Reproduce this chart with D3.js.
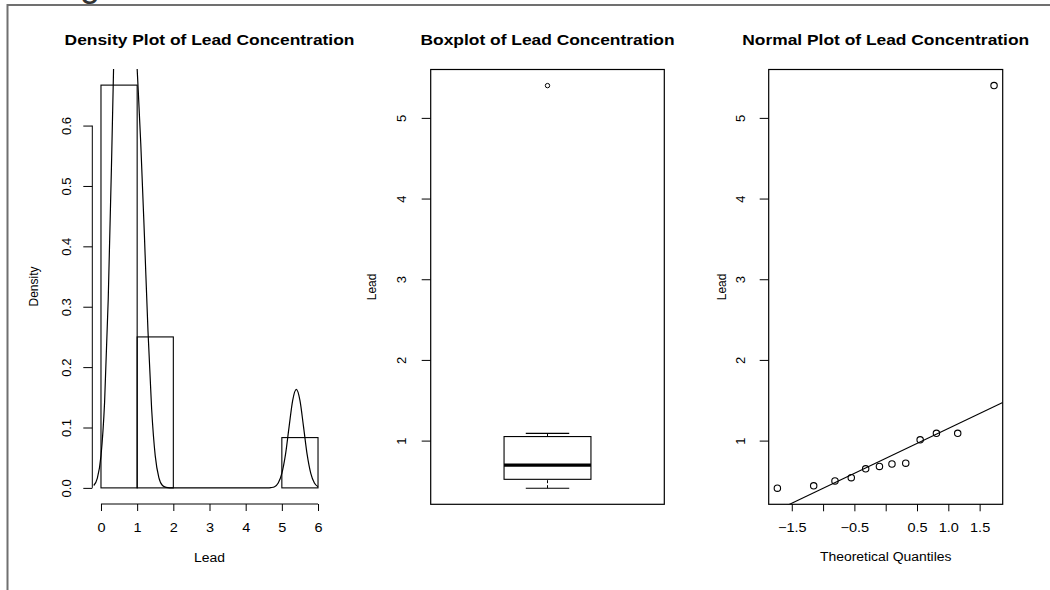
<!DOCTYPE html>
<html>
<head>
<meta charset="utf-8">
<script src="https://cdn.jsdelivr.net/npm/d3@7"></script>
<style>
  body { margin: 0; background: #fff; }
  svg { display: block; }
  text { font-family: "Liberation Sans", Arial, Helvetica, sans-serif; fill: #000; }
</style>
</head>
<body>
<div id="chartRoot"></div>
<script>
// lead values (sorted)
var leadValues = [0.41, 0.44, 0.50, 0.54, 0.65, 0.68, 0.71, 0.72, 1.01, 1.09, 1.09, 5.40];
var theoQuantiles = [-1.73, -1.15, -0.81, -0.55, -0.32, -0.10, 0.10, 0.32, 0.55, 0.81, 1.15, 1.73];

// histogram
var histBreaks = [0, 1, 2, 3, 4, 5, 6];
var histDensity = [0.667, 0.25, 0, 0, 0, 0.0833];

// density curve (top part is clipped)
var densX = [-0.2, -0.1, 0, 0.1, 0.2, 0.3, 0.4, 0.5, 0.6, 0.7, 0.8, 0.9, 1.0, 1.1, 1.2, 1.3, 1.4, 1.5, 1.6, 1.7, 1.8, 2.0,
             4.6, 4.7, 4.8, 4.9, 5.0, 5.1, 5.2, 5.3, 5.4, 5.5, 5.6, 5.7, 5.8, 5.9, 6.0];
var densY = [0.004, 0.016, 0.053, 0.142, 0.312, 0.560, 0.838, 1.061, 1.153, 1.101, 0.963, 0.816, 0.694, 0.570, 0.419, 0.259, 0.131, 0.053, 0.017, 0.004, 0.001, 0,
             0, 0.0005, 0.002, 0.008, 0.024, 0.055, 0.101, 0.145, 0.163, 0.145, 0.101, 0.055, 0.024, 0.008, 0.002];

// boxplot: lower whisker, lower hinge, median, upper hinge, upper whisker
var boxStats = [0.41, 0.52, 0.695, 1.05, 1.09];
var boxOutliers = [5.40];

// qq line: intercept, slope
var qqLineCoef = [0.78, 0.371];

// ticks
var histXTicks = [0, 1, 2, 3, 4, 5, 6];
var histYTicks = [0, 0.1, 0.2, 0.3, 0.4, 0.5, 0.6];
var leadTicks = [1, 2, 3, 4, 5];
var qqXTicks = [-1.5, -1, -0.5, 0, 0.5, 1, 1.5];
var qqXLabels = ["\u22121.5", "", "\u22120.5", "", "0.5", "1.0", "1.5"];

var titles = ["Density Plot of Lead Concentration", "Boxplot of Lead Concentration", "Normal Plot of Lead Concentration"];

var W = 1050, H = 590;
var SX = 1.16; // text is a bit wider than tall in the picture

var svg = d3.select("#chartRoot").append("svg").attr("width", W).attr("height", H);

// page edge of the surrounding document
svg.append("text").attr("x", 50).attr("y", -4).attr("font-size", 36).style("fill", "#333").text("Figure");
svg.append("path").attr("d", "M7.5,590V5H1050").attr("fill", "none").attr("stroke", "#707070").attr("stroke-width", 2);

function pad(ext) {
    var r = ext[1] - ext[0];
    return [ext[0] - 0.04 * r, ext[1] + 0.04 * r];
}

function hText(g, x, y, str, size, bold) {
    return g.append("text")
        .attr("transform", "translate(" + x + "," + y + ") scale(" + SX + ",1)")
        .attr("text-anchor", "middle")
        .attr("font-size", size)
        .attr("font-weight", bold ? "bold" : null)
        .text(str);
}

function vText(g, x, y, str, size) {
    return g.append("text")
        .attr("transform", "translate(" + x + "," + y + ") rotate(-90)")
        .attr("text-anchor", "middle")
        .attr("font-size", size)
        .text(str);
}

function styleYAxis(ax, off) {
    ax.select(".domain").remove();
    ax.attr("font-family", null).attr("font-size", null);
    ax.selectAll(".tick line").attr("stroke", "#000");
    ax.selectAll(".tick text")
        .attr("x", null).attr("dy", null)
        .attr("transform", "translate(" + (-off) + ",0) rotate(-90)")
        .attr("text-anchor", "middle")
        .attr("font-size", 13)
        .style("fill", "#000");
}

function styleXAxis(ax, off) {
    ax.select(".domain").remove();
    ax.attr("font-family", null).attr("font-size", null);
    ax.selectAll(".tick line").attr("stroke", "#000");
    ax.selectAll(".tick text")
        .attr("y", off).attr("dy", null)
        .attr("transform", "scale(" + SX + ",1)")
        .attr("font-size", 12.5)
        .style("fill", "#000");
}

// ---------- panel 1: histogram + density ----------
var p1 = {left: 92.3, right: 326.7, top: 69, bottom: 504};
var x1 = d3.scaleLinear().domain(pad([histBreaks[0], histBreaks[histBreaks.length - 1]])).range([p1.left, p1.right]);
var y1 = d3.scaleLinear().domain(pad([0, d3.max(histDensity)])).range([p1.bottom, p1.top]);
var g1 = svg.append("g");

g1.append("clipPath").attr("id", "clip1").append("rect")
    .attr("x", p1.left).attr("y", p1.top).attr("width", p1.right - p1.left).attr("height", p1.bottom - p1.top);

g1.selectAll("rect.bar")
    .data(histDensity)
    .enter().append("rect")
    .attr("class", "bar")
    .attr("x", function(d, i) { return x1(histBreaks[i]); })
    .attr("width", function(d, i) { return x1(histBreaks[i + 1]) - x1(histBreaks[i]); })
    .attr("y", function(d) { return y1(d); })
    .attr("height", function(d) { return y1(0) - y1(d); })
    .attr("fill", "none").attr("stroke", "#000").attr("stroke-width", 1.1);

var densLine = d3.line()
    .x(function(d) { return x1(d[0]); })
    .y(function(d) { return y1(d[1]); })
    .curve(d3.curveMonotoneX);
g1.append("path")
    .datum(d3.zip(densX, densY))
    .attr("clip-path", "url(#clip1)")
    .attr("d", densLine)
    .attr("fill", "none").attr("stroke", "#000").attr("stroke-width", 1.2);

var ax1y = g1.append("g").attr("transform", "translate(" + p1.left + ",0)")
    .call(d3.axisLeft(y1).tickValues(histYTicks).tickSize(9).tickFormat(d3.format(".1f")));
styleYAxis(ax1y, 21);
g1.append("line").attr("x1", p1.left).attr("x2", p1.left)
    .attr("y1", y1(histYTicks[0])).attr("y2", y1(histYTicks[histYTicks.length - 1])).attr("stroke", "#000");

var ax1x = g1.append("g").attr("transform", "translate(0," + p1.bottom + ")")
    .call(d3.axisBottom(x1).tickValues(histXTicks).tickSize(7).tickFormat(d3.format("d")));
styleXAxis(ax1x, 28);
g1.append("line").attr("y1", p1.bottom).attr("y2", p1.bottom)
    .attr("x1", x1(histXTicks[0])).attr("x2", x1(histXTicks[histXTicks.length - 1])).attr("stroke", "#000");

hText(g1, (p1.left + p1.right) / 2, 45, titles[0], 15, true);
hText(g1, (p1.left + p1.right) / 2, 561.5, "Lead", 12, false);
vText(g1, 38, (p1.top + p1.bottom) / 2, "Density", 12);

// ---------- panel 2: boxplot ----------
var p2 = {left: 430.7, right: 664.3, top: 69.5, bottom: 504.3};
var leadDomain = pad(d3.extent(leadValues));
var x2 = d3.scaleLinear().domain([0.5, 1.5]).range([p2.left, p2.right]);
var y2 = d3.scaleLinear().domain(leadDomain).range([p2.bottom, p2.top]);
var g2 = svg.append("g");
var boxHalf = 0.186, stapleHalf = 0.093;

g2.append("rect").attr("x", p2.left).attr("y", p2.top)
    .attr("width", p2.right - p2.left).attr("height", p2.bottom - p2.top)
    .attr("fill", "none").attr("stroke", "#000").attr("stroke-width", 1.2);

g2.append("rect")
    .attr("x", x2(1 - boxHalf)).attr("width", x2(1 + boxHalf) - x2(1 - boxHalf))
    .attr("y", y2(boxStats[3])).attr("height", y2(boxStats[1]) - y2(boxStats[3]))
    .attr("fill", "none").attr("stroke", "#000").attr("stroke-width", 1.1);
g2.append("line").attr("x1", x2(1 - boxHalf)).attr("x2", x2(1 + boxHalf))
    .attr("y1", y2(boxStats[2])).attr("y2", y2(boxStats[2]))
    .attr("stroke", "#000").attr("stroke-width", 3.2);
[[0, 1], [4, 3]].forEach(function(p) {
    g2.append("line").attr("x1", x2(1)).attr("x2", x2(1))
        .attr("y1", y2(boxStats[p[0]])).attr("y2", y2(boxStats[p[1]]))
        .attr("stroke", "#000").attr("stroke-dasharray", "3,2");
    g2.append("line").attr("x1", x2(1 - stapleHalf)).attr("x2", x2(1 + stapleHalf))
        .attr("y1", y2(boxStats[p[0]])).attr("y2", y2(boxStats[p[0]]))
        .attr("stroke", "#000").attr("stroke-width", 1.1);
});
g2.selectAll("circle.out")
    .data(boxOutliers)
    .enter().append("circle")
    .attr("class", "out")
    .attr("cx", x2(1)).attr("cy", function(d) { return y2(d); })
    .attr("r", 2.2).attr("fill", "none").attr("stroke", "#000");

var ax2y = g2.append("g").attr("transform", "translate(" + p2.left + ",0)")
    .call(d3.axisLeft(y2).tickValues(leadTicks).tickSize(9).tickFormat(d3.format("d")));
styleYAxis(ax2y, 25);

hText(g2, (p2.left + p2.right) / 2, 45, titles[1], 15, true);
vText(g2, 376, (p2.top + p2.bottom) / 2, "Lead", 12);

// ---------- panel 3: normal qq plot ----------
var p3 = {left: 768.7, right: 1002.7, top: 69.5, bottom: 504.3};
var x3 = d3.scaleLinear().domain(pad(d3.extent(theoQuantiles))).range([p3.left, p3.right]);
var y3 = d3.scaleLinear().domain(leadDomain).range([p3.bottom, p3.top]);
var g3 = svg.append("g");

g3.append("clipPath").attr("id", "clip3").append("rect")
    .attr("x", p3.left).attr("y", p3.top).attr("width", p3.right - p3.left).attr("height", p3.bottom - p3.top);

g3.append("rect").attr("x", p3.left).attr("y", p3.top)
    .attr("width", p3.right - p3.left).attr("height", p3.bottom - p3.top)
    .attr("fill", "none").attr("stroke", "#000").attr("stroke-width", 1.2);

var xd = x3.domain();
g3.append("line")
    .attr("clip-path", "url(#clip3)")
    .attr("x1", x3(xd[0])).attr("y1", y3(qqLineCoef[0] + qqLineCoef[1] * xd[0]))
    .attr("x2", x3(xd[1])).attr("y2", y3(qqLineCoef[0] + qqLineCoef[1] * xd[1]))
    .attr("stroke", "#000").attr("stroke-width", 1.1);

g3.selectAll("circle.pt")
    .data(d3.zip(theoQuantiles, leadValues))
    .enter().append("circle")
    .attr("class", "pt")
    .attr("cx", function(d) { return x3(d[0]); })
    .attr("cy", function(d) { return y3(d[1]); })
    .attr("r", 3.2).attr("fill", "none").attr("stroke", "#000").attr("stroke-width", 1.1);

var ax3y = g3.append("g").attr("transform", "translate(" + p3.left + ",0)")
    .call(d3.axisLeft(y3).tickValues(leadTicks).tickSize(9).tickFormat(d3.format("d")));
styleYAxis(ax3y, 24);

var ax3x = g3.append("g").attr("transform", "translate(0," + p3.bottom + ")")
    .call(d3.axisBottom(x3).tickValues(qqXTicks).tickSize(7)
        .tickFormat(function(d, i) { return qqXLabels[i]; }));
styleXAxis(ax3x, 28);

hText(g3, (p3.left + p3.right) / 2, 45, titles[2], 15, true);
hText(g3, (p3.left + p3.right) / 2, 561, "Theoretical Quantiles", 12, false);
vText(g3, 726, (p3.top + p3.bottom) / 2, "Lead", 12);
</script>
</body>
</html>
